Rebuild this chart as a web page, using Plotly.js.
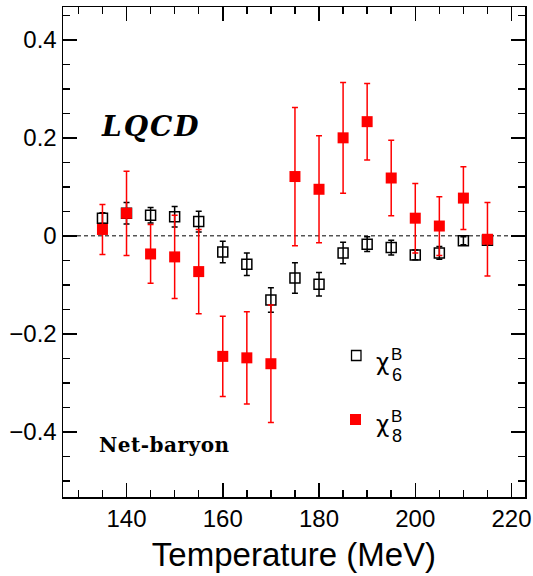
<!DOCTYPE html>
<html>
<head>
<meta charset="utf-8">
<script src="https://cdn.plot.ly/plotly-3.0.1.min.js"></script>
<style>html,body{margin:0;padding:0;background:#fff;}#chart{width:533px;height:576px;}</style>
</head>
<body>
<div id="chart"></div>
<script>
// Temperature (MeV)
const temperature = [135, 140, 145, 150, 155, 160, 165, 170, 175, 180, 185, 190, 195, 200, 205, 210, 215];
// chi6^B (open squares)
const chi6 = [0.036, 0.046, 0.042, 0.039, 0.029, -0.033, -0.058, -0.131, -0.086, -0.099, -0.035, -0.017, -0.024, -0.039, -0.035, -0.010, -0.009];
const chi6Err = [0.011, 0.022, 0.016, 0.021, 0.021, 0.022, 0.023, 0.025, 0.031, 0.024, 0.022, 0.015, 0.015, 0.010, 0.013, 0.008, 0.008];
// chi8^B (filled red squares)
const chi8 = [0.013, 0.046, -0.037, -0.043, -0.073, -0.246, -0.249, -0.261, 0.121, 0.095, 0.200, 0.233, 0.118, 0.036, 0.020, 0.077, -0.007];
const chi8Err = [0.051, 0.086, 0.060, 0.085, 0.086, 0.082, 0.094, 0.120, 0.141, 0.109, 0.113, 0.078, 0.077, 0.071, 0.060, 0.064, 0.075];
const xTicks = [140, 160, 180, 200, 220];
const yTicks = [-0.4, -0.2, 0, 0.2, 0.4];
const yTickText = ['\u22120.4', '\u22120.2', '0', '0.2', '0.4'];

const traces = [
  {
    x: temperature, y: chi6, type: 'scatter', mode: 'markers', name: 'chi6',
    marker: {symbol: 'square-open', size: 10, color: '#000', line: {width: 1.5, color: '#000'}},
    error_y: {type: 'data', array: chi6Err, visible: true, color: '#000', thickness: 1.5, width: 3},
    showlegend: false, cliponaxis: false
  },
  {
    x: temperature, y: chi8, type: 'scatter', mode: 'markers', name: 'chi8',
    marker: {symbol: 'square', size: 11, color: '#ff0000', line: {width: 0}},
    error_y: {type: 'data', array: chi8Err, visible: true, color: '#ff0000', thickness: 1.5, width: 3},
    showlegend: false, cliponaxis: false
  }
];

const axisCommon = {
  showline: true, linecolor: '#000', linewidth: 1.5, mirror: 'allticks',
  ticks: 'inside', ticklen: 14, tickwidth: 1.5, tickcolor: '#000',
  showgrid: false, zeroline: false,
  tickfont: {family: 'Liberation Sans, Arial, sans-serif', size: 24, color: '#000'}
};

const layout = {
  width: 533, height: 576,
  margin: {l: 63, r: 8, t: 7, b: 79},
  paper_bgcolor: '#fff', plot_bgcolor: '#fff',
  showlegend: false,
  xaxis: Object.assign({}, axisCommon, {
    range: [126.8, 222.8], tickvals: xTicks, ticktext: xTicks.map(String),
    minor: {dtick: 5, tick0: 0, ticks: 'inside', ticklen: 7, tickwidth: 1.5, tickcolor: '#000', showgrid: false},
    title: {text: 'Temperature (MeV)', font: {family: 'Liberation Sans, Arial, sans-serif', size: 33, color: '#000'}, standoff: 11}
  }),
  yaxis: Object.assign({}, axisCommon, {
    range: [-0.533, 0.467], tickvals: yTicks, ticktext: yTickText,
    minor: {dtick: 0.05, tick0: 0, ticks: 'inside', ticklen: 7, tickwidth: 1.5, tickcolor: '#000', showgrid: false}
  }),
  shapes: [
    {type: 'line', xref: 'paper', x0: 0, x1: 1, yref: 'y', y0: 0, y1: 0, line: {color: '#000', width: 1, dash: '4px,3px'}, layer: 'below'},
    {type: 'rect', xref: 'paper', yref: 'paper', x0: 0.6245, x1: 0.6450, y0: 0.2786, y1: 0.2990, line: {color: '#000', width: 1.3}, fillcolor: 'rgba(0,0,0,0)'},
    {type: 'rect', xref: 'paper', yref: 'paper', x0: 0.6212, x1: 0.6450, y0: 0.1469, y1: 0.1694, line: {width: 0}, fillcolor: '#ff0000'}
  ],
  annotations: [
    {xref: 'paper', yref: 'paper', x: 0.1905, y: 0.757, xanchor: 'center', yanchor: 'middle', showarrow: false,
     text: '<span style="letter-spacing:2px"><b><i>LQCD</i></b></span>', font: {family: 'DejaVu Serif, serif', size: 28, color: '#000'}},
    {xref: 'paper', yref: 'paper', x: 0.2197, y: 0.1061, xanchor: 'center', yanchor: 'middle', showarrow: false,
     text: '<span style="letter-spacing:0.5px"><b>Net-baryon</b></span>', font: {family: 'DejaVu Serif, serif', size: 20, color: '#000'}},
    {xref: 'paper', yref: 'paper', x: 0.6926, y: 0.2751, xanchor: 'center', yanchor: 'middle', showarrow: false,
     text: '\u03c7', font: {family: 'DejaVu Sans, sans-serif', size: 23, color: '#000'}},
    {xref: 'paper', yref: 'paper', x: 0.7219, y: 0.2918, xanchor: 'center', yanchor: 'middle', showarrow: false,
     text: 'B', font: {family: 'Liberation Sans, Arial, sans-serif', size: 17, color: '#000'}},
    {xref: 'paper', yref: 'paper', x: 0.7219, y: 0.249, xanchor: 'center', yanchor: 'middle', showarrow: false,
     text: '6', font: {family: 'Liberation Sans, Arial, sans-serif', size: 18, color: '#000'}},
    {xref: 'paper', yref: 'paper', x: 0.6926, y: 0.1486, xanchor: 'center', yanchor: 'middle', showarrow: false,
     text: '\u03c7', font: {family: 'DejaVu Sans, sans-serif', size: 23, color: '#000'}},
    {xref: 'paper', yref: 'paper', x: 0.7219, y: 0.1643, xanchor: 'center', yanchor: 'middle', showarrow: false,
     text: 'B', font: {family: 'Liberation Sans, Arial, sans-serif', size: 17, color: '#000'}},
    {xref: 'paper', yref: 'paper', x: 0.7219, y: 0.1255, xanchor: 'center', yanchor: 'middle', showarrow: false,
     text: '8', font: {family: 'Liberation Sans, Arial, sans-serif', size: 18, color: '#000'}}
  ]
};

Plotly.newPlot('chart', traces, layout, {staticPlot: true, displayModeBar: false});
</script>
</body>
</html>
